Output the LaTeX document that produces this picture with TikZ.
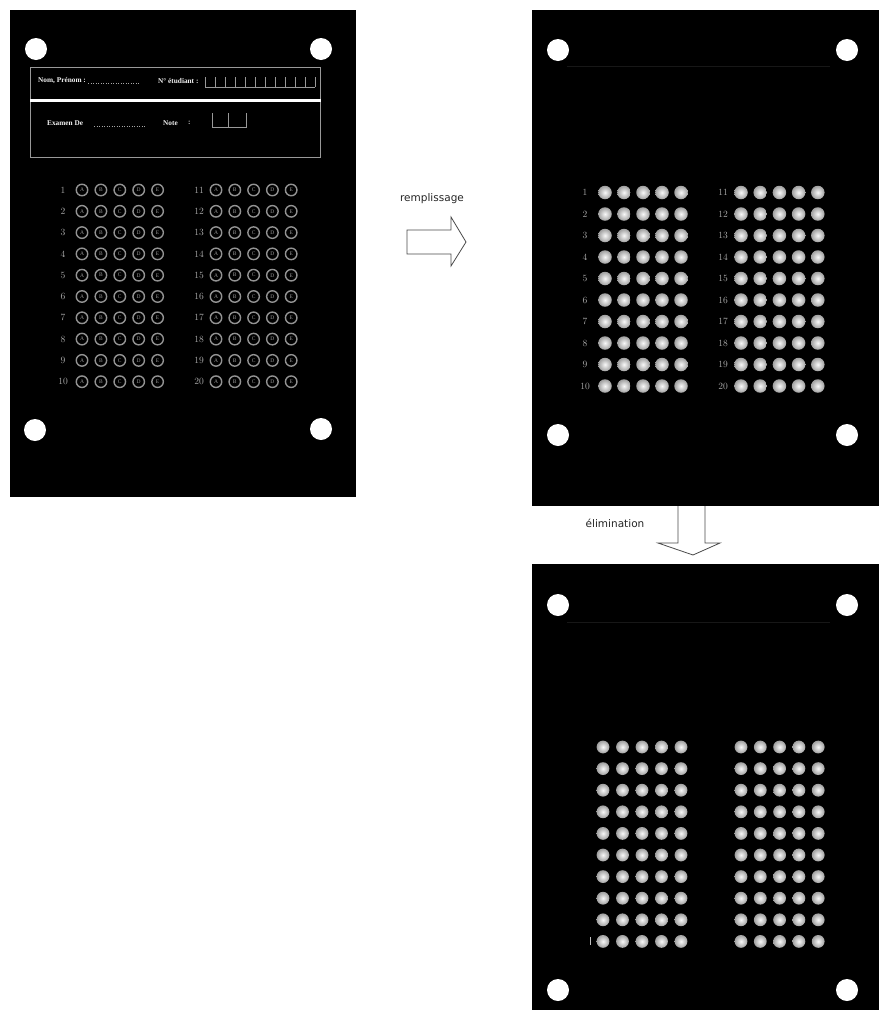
\documentclass[tikz,border=0pt]{standalone}
\usepackage{fontspec}
\newfontfamily\dejavu{DejaVu Sans}
\newfontfamily\tnr{Liberation Serif}
\begin{document}
\begin{tikzpicture}[x=1pt,y=-1pt,
  panel/.style={fill=black, inner sep=0pt, outer sep=0pt, rectangle},
  hole/.style={circle, fill=white, inner sep=0pt, minimum size=22pt},
  ring/.style={circle, draw=gray!85, line width=1.4pt, inner sep=0pt, minimum size=11.5pt, text=gray!80, font=\tnr\fontsize{5.5}{5.5}\selectfont},
  dotA/.style={circle, inner color=white!95!gray, outer color=gray!75, inner sep=0pt, minimum size=13.5pt},
  dotB/.style={circle, inner color=white!95!gray, outer color=gray!75, inner sep=0pt, minimum size=12.8pt},
  num/.style={text=gray!65, font=\fontsize{9.5}{10}\selectfont, inner sep=0pt},
  hdr/.style={text=white!90!gray, font=\tnr\bfseries\fontsize{7.3}{8}\selectfont, inner sep=0pt, anchor=west},
  frm/.style={draw=gray!80, line width=0.6pt},
  lbl/.style={font=\dejavu\fontsize{10.5}{12}\selectfont, text=black!85, inner sep=0pt},
  blockarrow/.style={draw=black!70, fill=white, line width=0.8pt, line join=miter},
  faint/.style={draw=gray!18!black, line width=0.5pt}
]
\useasboundingbox (0,0) rectangle (879,1010);
\fill[white] (0,0) rectangle (879,1010);

% panels
\node[panel, minimum width=346pt, minimum height=487pt] (p1) at (183,253.5) {};
\node[panel, minimum width=347pt, minimum height=496pt] (p2) at (705.5,258) {};
\node[panel, minimum width=347pt, minimum height=446pt] (p3) at (705.5,787) {};

% corner holes
\node[hole] (h1a) at (36,49) {};
\node[hole] (h1b) at (321,49) {};
\node[hole] (h1c) at (35,430) {};
\node[hole] (h1d) at (321,429) {};
\node[hole] (h2a) at (558,50) {};
\node[hole] (h2b) at (847,50) {};
\node[hole] (h2c) at (558,435) {};
\node[hole] (h2d) at (847,435) {};
\node[hole] (h3a) at (558,605) {};
\node[hole] (h3b) at (847,605) {};
\node[hole] (h3c) at (558,990) {};
\node[hole] (h3d) at (847,990) {};

% header of panel 1
\draw[frm] (30.5,67) rectangle (320,157);
\draw[white, line width=3.5pt] (30,100.5) -- (321,100.5);
\node[hdr] (nom) at (38,81) {Nom, Prénom :};
\draw[gray!70, dotted, line width=0.5pt] (88,83) -- (140,83);
\node[hdr] (etu) at (158,81) {N° étudiant :};
\draw[frm] (205,87) -- (315,87);
\foreach \i in {0,...,11} { \draw[frm] (205+\i*10,77) -- (205+\i*10,87); }
\node[hdr] (exa) at (47,123) {Examen De};
\draw[gray!70, dotted, line width=0.5pt] (94,126) -- (146,126);
\node[hdr] (note) at (163,123) {Note};
\node[hdr, text=gray!40] (notec) at (188,123) {:};
\draw[frm] (212,113) -- (212,127) -- (246,127) -- (246,113);
\draw[frm] (228,113) -- (228,127);

% bubbles panel 1
\foreach \r in {0,...,9} {
  \pgfmathtruncatemacro{\na}{\r+1}
  \pgfmathtruncatemacro{\nb}{\r+11}
  \node[num] (n1a-\r) at (63,190+\r*21.3) {\na};
  \node[num] (n1b-\r) at (199,190+\r*21.3) {\nb};
  \foreach \c/\L in {0/A,1/B,2/C,3/D,4/E} {
    \node[ring] (b1a-\r-\c) at (82+\c*18.9,190+\r*21.3) {\L};
    \node[ring] (b1b-\r-\c) at (216+\c*18.8,190+\r*21.3) {\L};
  }
}

% bubbles panel 2
\draw[faint] (567,66) -- (830,66);
\foreach \r in {0,...,9} {
  \pgfmathtruncatemacro{\na}{\r+1}
  \pgfmathtruncatemacro{\nb}{\r+11}
  \node[num] (n2a-\r) at (585,192.5+\r*21.5) {\na};
  \node[num] (n2b-\r) at (723,192.5+\r*21.5) {\nb};
  \foreach \c in {0,...,4} {
    \node[dotA] (b2a-\r-\c) at (605+\c*19,192.5+\r*21.5) {};
    \node[dotA] (b2b-\r-\c) at (741+\c*19.2,192.5+\r*21.5) {};
  }
}

% bubbles panel 3
\draw[faint] (567,622) -- (830,622);
\foreach \r in {0,...,9} {
  \foreach \c in {0,...,4} {
    \node[dotB] (b3a-\r-\c) at (603+\c*19.5,747+\r*21.6) {};
    \node[dotB] (b3b-\r-\c) at (741+\c*19.3,747+\r*21.6) {};
  }
}
\draw[gray!50, line width=0.6pt] (590,937) -- (590,945);

% arrows
\node[lbl] (rlab) at (432,199) {remplissage};
\draw[blockarrow] (407,230) -- (451,230) -- (451,217) -- (466,242) -- (451,266) -- (451,254) -- (407,254) -- cycle;

\node[lbl] (elab) at (615,523) {élimination};
\fill[white] (678,506) -- (678,543) -- (658,543) -- (693,555) -- (720,543) -- (705,543) -- (705,506) -- cycle;
\draw[blockarrow, fill=none] (678,506) -- (678,543) -- (658,543) -- (693,555) -- (720,543) -- (705,543) -- (705,506);
\end{tikzpicture}
\end{document}
